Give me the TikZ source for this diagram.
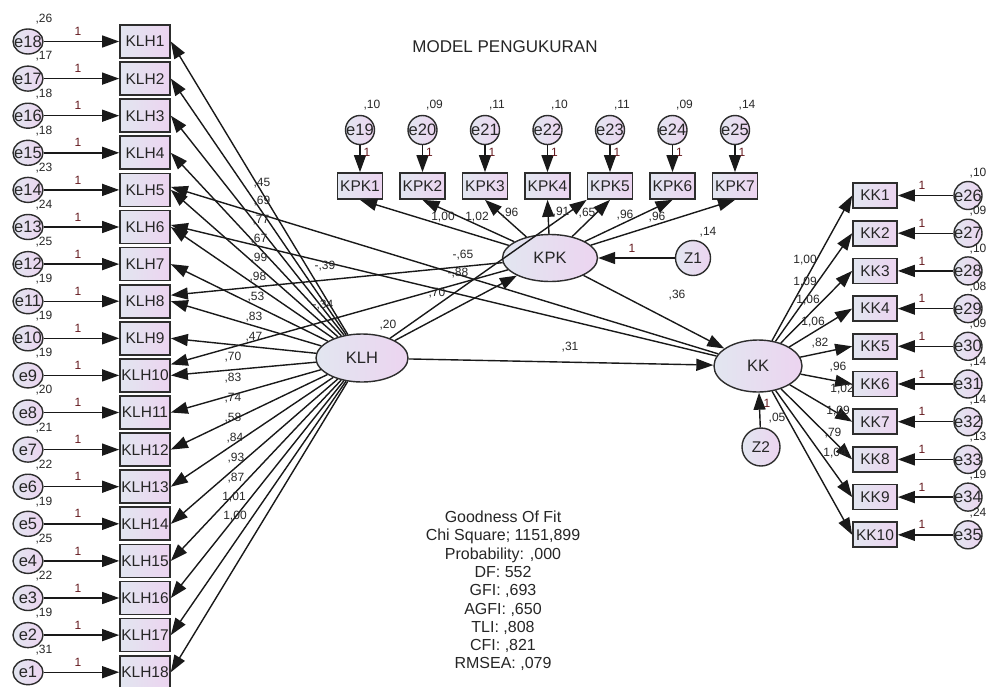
\documentclass[tikz,border=0pt]{standalone}
\usepackage{fontspec}
\setmainfont{Liberation Sans}
\usetikzlibrary{shapes.geometric,arrows.meta}
\definecolor{fillL}{RGB}{226,230,240}
\definecolor{fillR}{RGB}{236,212,240}
\definecolor{edgec}{RGB}{45,45,45}
\definecolor{fixc}{RGB}{100,25,30}
\definecolor{parc}{RGB}{40,40,40}
\newcommand{\zwbox}[1]{\makebox[0pt]{#1}}
\begin{document}
\begin{tikzpicture}[x=1pt,y=-1pt,
 obs/.style={draw=edgec, line width=1.7pt, rectangle, inner sep=0pt, left color=fillL, right color=fillR, text=black!85, font=\fontsize{15.5}{18}\selectfont},
 errl/.style={draw=edgec, line width=1.4pt, ellipse, inner sep=0pt, minimum width=30pt, minimum height=25pt, left color=fillL, right color=fillR, text=black!85, font=\fontsize{16.5}{18}\selectfont},
 errc/.style={draw=edgec, line width=1.4pt, circle, inner sep=0pt, minimum size=29pt, left color=fillL, right color=fillR, text=black!85, font=\fontsize{16.5}{18}\selectfont},
 lat/.style={draw=edgec, line width=1.4pt, ellipse, inner sep=0pt, left color=fillL, right color=fillR, text=black!85, font=\fontsize{16.5}{18}\selectfont},
 arr/.style={draw=black!90, line width=1.4pt, -{Triangle[length=17pt,width=12pt]}},
 par/.style={font=\fontsize{12}{14}\selectfont, text=parc, inner sep=0pt},
 fix/.style={par, text=fixc}
]
\useasboundingbox[fill=white] (0,0) rectangle (988,686);

% title
\node[font=\fontsize{17}{20}\selectfont, text=black!85] (title) at (505,47) {MODEL PENGUKURAN};

% KLH indicators
\foreach \i/\v in {1/26,2/17,3/18,4/18,5/23,6/24,7/25,8/19,9/19,10/19,11/20,12/21,13/22,14/19,15/25,16/22,17/19,18/31} {
  \pgfmathsetmacro\yy{41.5+37.1*(\i-1)}
  \pgfmathtruncatemacro\ee{19-\i}
  \node[obs, minimum width=50pt, minimum height=33pt] (klh\i) at (145,\yy) {KLH\i};
  \node[errl] (el\i) at (28,\yy) {\zwbox{e\ee}};
  \draw[arr] (el\i) -- (klh\i);
  \node[fix] at (78,\yy-10) {1};
  \node[par] at (44,\yy-22) {,\v};
}

% KPK indicators
\foreach \i/\v in {1/10,2/09,3/11,4/10,5/11,6/09,7/14} {
  \pgfmathsetmacro\xx{360+62.5*(\i-1)}
  \pgfmathtruncatemacro\ee{18+\i}
  \node[obs, minimum width=45pt, minimum height=26pt] (kpk\i) at (\xx,186) {KPK\i};
  \node[errc] (ek\i) at (\xx,130) {\zwbox{e\ee}};
  \draw[arr] (ek\i) -- (kpk\i);
  \node[par] at (\xx+12,105) {,\v};
  \node[fix] at (\xx+7,152) {1};
}

% KK indicators
\foreach \i/\v in {1/10,2/09,3/10,4/08,5/09,6/14,7/14,8/13,9/19,10/24} {
  \pgfmathsetmacro\yy{195.5+37.7*(\i-1)}
  \pgfmathtruncatemacro\ee{25+\i}
  \node[obs, minimum width=44pt, minimum height=25pt] (kk\i) at (875,\yy) {KK\i};
  \node[errc, minimum size=28pt] (ekk\i) at (968,\yy) {\zwbox{e\ee}};
  \draw[arr] (ekk\i) -- (kk\i);
  \node[fix] at (922,\yy-10) {1};
  \node[par] at (978,\yy-22) {,\v};
}

% latent variables
\node[lat, minimum width=92pt, minimum height=48pt] (klh) at (362,358) {KLH};
\node[lat, minimum width=95pt, minimum height=47pt] (kpk) at (550,258) {KPK};
\node[lat, minimum width=88pt, minimum height=52pt] (kk) at (758,366) {KK};
\node[errc, minimum size=35pt, font=\fontsize{15.5}{18}\selectfont] (z1) at (693,258) {Z1};
\node[errc, minimum size=38pt, font=\fontsize{15.5}{18}\selectfont] (z2) at (761,447) {Z2};

% loadings
\foreach \i in {1,...,18} \draw[arr] (klh) -- (klh\i.east);
\foreach \i in {1,...,7} \draw[arr] (kpk) -- (kpk\i.south);
\foreach \i in {1,...,10} \draw[arr] (kk) -- (kk\i.west);

% structural paths
\draw[arr] (klh) -- (kk);
\draw[arr] (kpk) -- (kk);
\draw[arr] (klh) -- (kpk);
\draw[arr] (klh) -- (kpk5.south west);
\draw[arr] (z1) -- (kpk);
\draw[arr] (z2) -- (kk);
\draw[arr] (kk) -- ([yshift=3pt]klh5.east);
\draw[arr] (kk) -- ([yshift=2pt]klh6.east);
\draw[arr] (kpk) -- ([yshift=6pt]klh8.east);
\draw[arr] (kpk) -- ([yshift=11pt]klh10.east);

% KLH loading labels
\foreach \x/\y/\t in {262/183/{,45},262/201/{,69},261/220/{,77},259/239/{,67},259/258/{,99},258/277/{,98},256/297/{,53},254/317/{,83},254/337/{,47},233/357/{,70},233/378/{,83},233/398/{,74},233/418/{,58},235/438/{,84},236/458/{,93},236/478/{,87},234/497/{1,01},235/516/{1,00}}
  \node[par] at (\x,\y) {\t};

% KPK loading labels
\foreach \x/\y/\t in {443/217/{1,00},477/217/{1,02},510/213/{,96},561/212/{,91},587/213/{,65},625/215/{,96},657/217/{,96}}
  \node[par] at (\x,\y) {\t};

% KK loading labels
\foreach \x/\y/\t in {805/260/{1,00},805/282/{1,09},808/300/{1,06},813/322/{1,06},820/343/{,82},838/367/{,96},842/389/{1,02},838/411/{1,09},833/433/{,79},835/453/{1,04}}
  \node[par] at (\x,\y) {\t};

% structural labels
\node[par] at (325,266) {-,39};
\node[par] at (323,305) {-,34};
\node[par] at (463,255) {-,65};
\node[par] at (458,273) {-,88};
\node[par] at (437,293) {,70};
\node[par] at (388,325) {,20};
\node[par] at (677,295) {,36};
\node[par] at (570,347) {,31};
\node[par] at (708,232) {,14};
\node[fix] at (632,248) {1};
\node[fix] at (767,403) {1};
\node[par] at (777,418) {,05};

% goodness of fit
\node[align=center, inner sep=0pt, text=black!85, font=\fontsize{16}{18.3}\selectfont] (gof) at (503,591)
 {Goodness Of Fit\\Chi Square; 1151,899\\Probability: ,000\\DF: 552\\GFI: ,693\\AGFI: ,650\\TLI: ,808\\CFI: ,821\\RMSEA: ,079};
\end{tikzpicture}
\end{document}
